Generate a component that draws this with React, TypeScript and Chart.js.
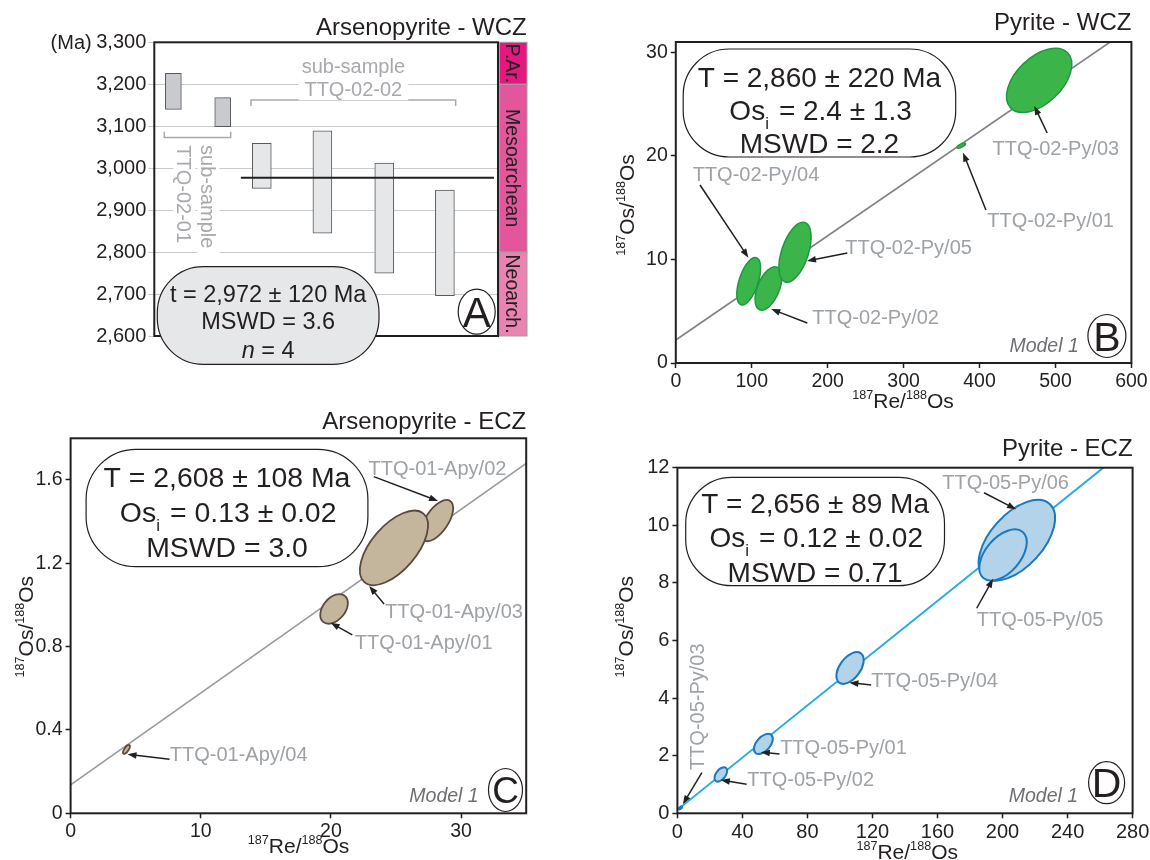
import React, { useEffect, useRef } from 'react';
import { Chart, registerables } from 'chart.js';

Chart.register(...registerables);

const FONT = '"Liberation Sans", Arial, Helvetica, sans-serif';
const INK = '#231f20';
const GRAY_TXT = '#9ea2a6';
const MODEL_TXT = '#6d6e71';

// ---------------- Panel A : Arsenopyrite - WCZ (model ages, Ma) ----------------
const A_SUB01_POS = [0.61, 2.19];
const A_SUB01_LOW = [3140, 3099];
const A_SUB01_HIGH = [3226, 3168];
const A_SUB02_POS = [3.44, 5.38, 7.36, 9.3];
const A_SUB02_LOW = [2952, 2845, 2750, 2696];
const A_SUB02_HIGH = [3059, 3089, 3012, 2948];
const A_MEAN_AGE = 2977;
const A_MEAN_FROM = 2.77;
const A_MEAN_TO = 10.87;
const A_Y_TICKS = [2600, 2700, 2800, 2900, 3000, 3100, 3200, 3300];
const GEO_NAMES = ['P.Ar.', 'Mesoarchean', 'Neoarch.'];
const GEO_TOP = [3300, 3200, 2800];
const GEO_BOTTOM = [3200, 2800, 2600];
const GEO_COLORS = ['#e4187e', '#e4569b', '#ea83b1'];

// ---------------- Panel B : Pyrite - WCZ ----------------
const B_NAMES = ['TTQ-02-Py/01', 'TTQ-02-Py/04', 'TTQ-02-Py/02', 'TTQ-02-Py/05', 'TTQ-02-Py/03'];
const B_RE = [376, 96, 122, 157, 478.5];
const B_RE_ERR = [5.5, 15.7, 17.6, 21.2, 43];
const B_OS = [21.0, 7.9, 7.2, 10.7, 27.3];
const B_OS_ERR = [0.25, 2.29, 2.1, 2.9, 3.1];
const B_RHO = [0.7, 0.55, 0.5, 0.5, 0.5];
const B_ISO_X = [0, 572];
const B_ISO_Y = [2.22, 31];
const B_X_TICKS = [0, 100, 200, 300, 400, 500, 600];
const B_Y_TICKS = [0, 10, 20, 30];

// ---------------- Panel C : Arsenopyrite - ECZ ----------------
const C_NAMES = ['TTQ-01-Apy/01', 'TTQ-01-Apy/02', 'TTQ-01-Apy/03', 'TTQ-01-Apy/04'];
const C_RE = [20.24, 28.15, 24.84, 4.29];
const C_RE_ERR = [1.06, 1.24, 2.62, 0.26];
const C_OS = [0.981, 1.405, 1.274, 0.307];
const C_OS_ERR = [0.071, 0.099, 0.179, 0.0216];
const C_RHO = [0.4, 0.6, 0.6, 0.7];
const C_ISO_X = [0, 35];
const C_ISO_Y = [0.136, 1.68];
const C_X_TICKS = [0, 10, 20, 30];
const C_Y_TICKS = [0, 0.4, 0.8, 1.2, 1.6];

// ---------------- Panel D : Pyrite - ECZ ----------------
const D_NAMES = ['TTQ-05-Py/01', 'TTQ-05-Py/02', 'TTQ-05-Py/03', 'TTQ-05-Py/04', 'TTQ-05-Py/06', 'TTQ-05-Py/05'];
const D_RE = [52.9, 26.7, 2.0, 106.2, 208.8, 200.3];
const D_RE_ERR = [5.8, 3.9, 1.0, 8.4, 23.5, 14.6];
const D_OS = [2.41, 1.35, 0.19, 5.045, 9.48, 8.97];
const D_OS_ERR = [0.35, 0.25, 0.05, 0.55, 1.4, 0.89];
const D_RHO = [0.5, 0.5, 0.6, 0.5, 0.55, 0.5];
const D_ISO_X = [0, 262];
const D_ISO_Y = [0.12, 12];
const D_X_TICKS = [0, 40, 80, 120, 160, 200, 240, 280];
const D_Y_TICKS = [0, 2, 4, 6, 8, 10, 12];

// ---------------------------------------------------------------------------
type Seg = { t: string; sub?: boolean; sup?: boolean; italic?: boolean };
type Rect = { left: number; top: number; w: number; h: number };
type Plot = { l: number; t: number; r: number; b: number };

const f = (size: number, italic = false) => `${italic ? 'italic ' : ''}${size}px ${FONT}`;

function drawSegs(ctx: CanvasRenderingContext2D, segs: Seg[], x: number, baseY: number, size: number, color: string) {
  const small = size * 0.6;
  const widths = segs.map((s) => {
    ctx.font = f(s.sub || s.sup ? small : size, s.italic);
    return ctx.measureText(s.t).width;
  });
  const total = widths.reduce((a, b) => a + b, 0);
  let cx = x - total / 2;
  ctx.fillStyle = color;
  ctx.textAlign = 'left';
  ctx.textBaseline = 'alphabetic';
  segs.forEach((s, i) => {
    ctx.font = f(s.sub || s.sup ? small : size, s.italic);
    const dy = s.sub ? size * 0.32 : s.sup ? -size * 0.42 : 0;
    ctx.fillText(s.t, cx, baseY + dy);
    cx += widths[i] + (s.sub ? size * 0.08 : 0);
  });
}

function roundRect(ctx: CanvasRenderingContext2D, x: number, y: number, w: number, h: number, r: number) {
  const rr = Math.min(r, h / 2, w / 2);
  ctx.beginPath();
  ctx.moveTo(x + rr, y);
  ctx.lineTo(x + w - rr, y);
  ctx.arcTo(x + w, y, x + w, y + rr, rr);
  ctx.lineTo(x + w, y + h - rr);
  ctx.arcTo(x + w, y + h, x + w - rr, y + h, rr);
  ctx.lineTo(x + rr, y + h);
  ctx.arcTo(x, y + h, x, y + h - rr, rr);
  ctx.lineTo(x, y + rr);
  ctx.arcTo(x, y, x + rr, y, rr);
  ctx.closePath();
}

function arrow(ctx: CanvasRenderingContext2D, x1: number, y1: number, x2: number, y2: number) {
  const a = Math.atan2(y2 - y1, x2 - x1);
  const hl = 9;
  const hw = 3.3;
  const c = Math.cos(a);
  const s = Math.sin(a);
  ctx.strokeStyle = INK;
  ctx.lineWidth = 1.5;
  ctx.beginPath();
  ctx.moveTo(x1, y1);
  ctx.lineTo(x2 - c * hl * 0.7, y2 - s * hl * 0.7);
  ctx.stroke();
  ctx.fillStyle = INK;
  ctx.beginPath();
  ctx.moveTo(x2, y2);
  ctx.lineTo(x2 - c * hl + s * hw, y2 - s * hl - c * hw);
  ctx.lineTo(x2 - c * hl - s * hw, y2 - s * hl + c * hw);
  ctx.closePath();
  ctx.fill();
}

type Deco = {
  title: { text: string; right: number; y: number; size: number };
  xTitle?: { x: number; y: number };
  yTitle?: { x: number; y: number };
  box: { dx: number; dy: number; w: number; h: number; r: number; fill: string; size: number; lines: Seg[][]; ys: number[] };
  labels: { text: string; x: number; y: number; rot?: number }[];
  labelSize: number;
  arrows: number[][];
  model?: { dr: number; db: number; size: number };
  letter: { ch: string; dr: number; db: number; w: number; h: number; size: number };
};

const OS_TITLE: Seg[] = [{ t: '187', sup: true }, { t: 'Os/' }, { t: '188', sup: true }, { t: 'Os' }];
const RE_TITLE: Seg[] = [{ t: '187', sup: true }, { t: 'Re/' }, { t: '188', sup: true }, { t: 'Os' }];

function decoDraw(chart: any, d: Deco) {
  const ctx: CanvasRenderingContext2D = chart.ctx;
  const ca = chart.chartArea;
  const xs = chart.scales.x;
  const ys = chart.scales.y;
  ctx.save();
  ctx.strokeStyle = INK;
  ctx.lineWidth = 2;
  ctx.strokeRect(ca.left, ca.top, ca.right - ca.left, ca.bottom - ca.top);
  ctx.fillStyle = INK;
  ctx.font = f(d.title.size);
  ctx.textAlign = 'right';
  ctx.textBaseline = 'alphabetic';
  ctx.fillText(d.title.text, d.title.right, d.title.y + d.title.size * 0.358);
  if (d.xTitle) drawSegs(ctx, RE_TITLE, d.xTitle.x, d.xTitle.y + 21 * 0.358, 21, INK);
  if (d.yTitle) {
    ctx.save();
    ctx.translate(d.yTitle.x, d.yTitle.y);
    ctx.rotate(-Math.PI / 2);
    drawSegs(ctx, OS_TITLE, 0, 21 * 0.358, 21, INK);
    ctx.restore();
  }
  d.arrows.forEach((a) => {
    arrow(ctx, xs.getPixelForValue(a[0]), ys.getPixelForValue(a[1]), xs.getPixelForValue(a[2]), ys.getPixelForValue(a[3]));
  });
  const size = d.labelSize;
  d.labels.forEach((l) => {
    const px = xs.getPixelForValue(l.x);
    const py = ys.getPixelForValue(l.y);
    ctx.font = f(size);
    ctx.fillStyle = GRAY_TXT;
    ctx.textBaseline = 'alphabetic';
    if (l.rot) {
      ctx.save();
      ctx.translate(px, py);
      ctx.rotate(l.rot);
      ctx.textAlign = 'center';
      ctx.fillText(l.text, 0, size * 0.358);
      ctx.restore();
    } else {
      ctx.textAlign = 'left';
      ctx.fillText(l.text, px, py + size * 0.358);
    }
  });
  const b = d.box;
  const bx = ca.left + b.dx;
  const by = ca.top + b.dy;
  roundRect(ctx, bx, by, b.w, b.h, b.r);
  ctx.fillStyle = b.fill;
  ctx.fill();
  ctx.strokeStyle = INK;
  ctx.lineWidth = 1.2;
  ctx.stroke();
  b.lines.forEach((segs, i) => drawSegs(ctx, segs, bx + b.w / 2, by + b.ys[i] + b.size * 0.358, b.size, INK));
  if (d.model) {
    ctx.font = f(d.model.size, true);
    ctx.fillStyle = MODEL_TXT;
    ctx.textAlign = 'right';
    ctx.fillText('Model 1', ca.right - d.model.dr, ca.bottom - d.model.db + d.model.size * 0.358);
  }
  const L = d.letter;
  const lx = ca.right - L.dr;
  const ly = ca.bottom - L.db;
  ctx.beginPath();
  ctx.ellipse(lx, ly, L.w / 2, L.h / 2, 0, 0, Math.PI * 2);
  ctx.fillStyle = '#ffffff';
  ctx.fill();
  ctx.strokeStyle = INK;
  ctx.lineWidth = 1.2;
  ctx.stroke();
  ctx.fillStyle = INK;
  ctx.font = f(L.size);
  ctx.textAlign = 'center';
  ctx.fillText(L.ch, lx, ly + L.size * 0.358);
  ctx.restore();
}

type EllSpec = { x: number[]; sx: number[]; y: number[]; sy: number[]; rho: number[]; fill: string; stroke: string; lw: number; names: string[] };

function drawEllipses(chart: any, e: EllSpec) {
  const ctx: CanvasRenderingContext2D = chart.ctx;
  const ca = chart.chartArea;
  const xs = chart.scales.x;
  const ys = chart.scales.y;
  ctx.save();
  ctx.beginPath();
  ctx.rect(ca.left, ca.top, ca.right - ca.left, ca.bottom - ca.top);
  ctx.clip();
  e.x.forEach((cx, i) => {
    const px = xs.getPixelForValue(cx);
    const py = ys.getPixelForValue(e.y[i]);
    const hw = Math.abs(xs.getPixelForValue(cx + e.sx[i]) - px);
    const hh = Math.abs(ys.getPixelForValue(e.y[i] + e.sy[i]) - py);
    const c11 = hw * hw;
    const c22 = hh * hh;
    const c12 = -e.rho[i] * hw * hh;
    const m = (c11 + c22) / 2;
    const dd = Math.sqrt(((c11 - c22) / 2) ** 2 + c12 * c12);
    const a = Math.sqrt(m + dd);
    const bb = Math.sqrt(Math.max(m - dd, 0.5));
    const th = 0.5 * Math.atan2(2 * c12, c11 - c22);
    ctx.beginPath();
    ctx.ellipse(px, py, a, bb, th, 0, Math.PI * 2);
    ctx.fillStyle = e.fill;
    ctx.fill();
    ctx.strokeStyle = e.stroke;
    ctx.lineWidth = e.lw;
    ctx.stroke();
  });
  ctx.restore();
}

function layoutOf(canvas: Rect, plot: Plot, xShown: boolean) {
  return {
    padding: {
      left: 0,
      top: plot.t - canvas.top,
      right: canvas.left + canvas.w - plot.r,
      bottom: xShown ? 0 : canvas.top + canvas.h - plot.b,
    },
    yWidth: plot.l - canvas.left,
    xHeight: canvas.top + canvas.h - plot.b,
  };
}

function isoConfig(spec: {
  canvas: Rect; plot: Plot; xMin: number; xMax: number; yMin: number; yMax: number;
  xTicks: number[]; yTicks: number[]; yFmt: (v: number) => string; tickSize: number;
  isoX: number[]; isoY: number[]; isoColor: string; isoWidth: number; ell: EllSpec; deco: Deco;
}) {
  const lay = layoutOf(spec.canvas, spec.plot, true);
  const tickCommon = {
    grid: { drawOnChartArea: false, drawTicks: true, tickLength: 5, tickColor: INK, tickWidth: 1.5 },
    border: { display: false },
  };
  return {
    type: 'scatter',
    data: {
      datasets: [
        {
          type: 'line',
          data: spec.isoX.map((x, i) => ({ x, y: spec.isoY[i] })),
          borderColor: spec.isoColor,
          borderWidth: spec.isoWidth,
          pointRadius: 0,
          fill: false,
        },
        {
          type: 'scatter',
          data: spec.ell.x.map((x, i) => ({ x, y: spec.ell.y[i] })),
          pointRadius: 0,
        },
      ],
    },
    options: {
      responsive: false,
      animation: false,
      events: [],
      layout: { padding: lay.padding },
      plugins: { legend: { display: false }, tooltip: { enabled: false }, title: { display: false } },
      scales: {
        x: {
          type: 'linear', min: spec.xMin, max: spec.xMax, ...tickCommon,
          afterBuildTicks: (s: any) => { s.ticks = spec.xTicks.map((v) => ({ value: v })); },
          afterFit: (s: any) => { s.height = lay.xHeight; },
          ticks: { autoSkip: false, maxRotation: 0, padding: 2, color: INK, font: { family: FONT, size: spec.tickSize }, callback: (v: any) => String(v) },
        },
        y: {
          type: 'linear', min: spec.yMin, max: spec.yMax, ...tickCommon,
          afterBuildTicks: (s: any) => { s.ticks = spec.yTicks.map((v) => ({ value: v })); },
          afterFit: (s: any) => { s.width = lay.yWidth; },
          ticks: { autoSkip: false, padding: 3, color: INK, font: { family: FONT, size: spec.tickSize }, callback: (v: any) => spec.yFmt(Number(v)) },
        },
      },
    },
    plugins: [
      {
        id: 'ellipsesAndDeco',
        afterDatasetsDraw: (chart: any) => drawEllipses(chart, spec.ell),
        afterDraw: (chart: any) => decoDraw(chart, spec.deco),
      },
    ],
  };
}

// ---------------- Panel A config ----------------
const A_CANVAS: Rect = { left: 0, top: 0, w: 575, h: 400 };
const A_PLOT: Plot = { l: 154.3, t: 42.3, r: 498, b: 336 };

function fmtThousands(v: number) {
  const s = String(Math.round(v));
  return s.length > 3 ? s.slice(0, s.length - 3) + ',' + s.slice(-3) : s;
}

const A_TEXTS = [
  { text: 'sub-sample', x: 6.37, y: 3244, rot: 0 },
  { text: 'TTQ-02-02', x: 6.37, y: 3188, rot: 0 },
  { text: 'TTQ-02-01', x: 0.96, y: 2938, rot: Math.PI / 2 },
  { text: 'sub-sample', x: 1.73, y: 2932, rot: Math.PI / 2 },
];
const A_BRACKETS = [
  [[3.095, 3148], [3.095, 3162.5], [9.646, 3162.5], [9.646, 3148]],
  [[0.32, 3087], [0.32, 3073], [2.445, 3073], [2.445, 3087]],
];

const A_DECO: Deco = {
  title: { text: 'Arsenopyrite - WCZ', right: 526.7, y: 26.7, size: 24 },
  box: {
    dx: 3, dy: 224.4, w: 221.7, h: 97.6, r: 46, fill: '#e6e7e8', size: 23.5,
    lines: [[{ t: 't = 2,972 ± 120 Ma' }], [{ t: 'MSWD = 3.6' }], [{ t: 'n', italic: true }, { t: ' = 4' }]],
    ys: [26.6, 54.3, 83.3],
  },
  labels: [],
  labelSize: 20,
  arrows: [],
  letter: { ch: 'A', dr: 21.3, db: 24.3, w: 37, h: 45, size: 42 },
};

function aDraw(chart: any) {
  const ctx: CanvasRenderingContext2D = chart.ctx;
  const ca = chart.chartArea;
  const xs = chart.scales.x;
  const ys = chart.scales.y;
  ctx.save();
  ctx.strokeStyle = '#a7a9ac';
  ctx.lineWidth = 1.5;
  A_BRACKETS.forEach((br) => {
    ctx.beginPath();
    br.forEach((p, i) => {
      const px = xs.getPixelForValue(p[0]);
      const py = ys.getPixelForValue(p[1]);
      if (i === 0) ctx.moveTo(px, py); else ctx.lineTo(px, py);
    });
    ctx.stroke();
  });
  const size = 20;
  A_TEXTS.forEach((t) => {
    const px = xs.getPixelForValue(t.x);
    const py = ys.getPixelForValue(t.y);
    ctx.save();
    ctx.translate(px, py);
    ctx.rotate(t.rot);
    ctx.font = f(size);
    const w = ctx.measureText(t.text).width;
    ctx.fillStyle = '#ffffff';
    ctx.fillRect(-w / 2 - 6, -size * 0.55, w + 12, size * 1.1);
    ctx.fillStyle = '#a7a9ac';
    ctx.textAlign = 'center';
    ctx.textBaseline = 'alphabetic';
    ctx.fillText(t.text, 0, size * 0.358);
    ctx.restore();
  });
  ctx.fillStyle = INK;
  ctx.font = f(20);
  ctx.textAlign = 'right';
  ctx.fillText('(Ma)', 91.7, ys.getPixelForValue(3300) + 20 * 0.358);
  const gx0 = ca.right + 1.5;
  const gx1 = ca.right + 29;
  GEO_NAMES.forEach((name, i) => {
    const y0 = ys.getPixelForValue(GEO_TOP[i]);
    const y1 = ys.getPixelForValue(GEO_BOTTOM[i]);
    ctx.fillStyle = GEO_COLORS[i];
    ctx.fillRect(gx0, y0, gx1 - gx0, y1 - y0);
    ctx.strokeStyle = '#9d9fa2';
    ctx.lineWidth = 1;
    ctx.strokeRect(gx0, y0, gx1 - gx0, y1 - y0);
    ctx.save();
    ctx.translate((gx0 + gx1) / 2, (y0 + y1) / 2);
    ctx.rotate(Math.PI / 2);
    ctx.fillStyle = INK;
    ctx.font = f(19.5);
    ctx.textAlign = 'center';
    ctx.fillText(name, 0, 19.5 * 0.358);
    ctx.restore();
  });
  ctx.restore();
  decoDraw(chart, A_DECO);
}

function aConfig() {
  const lay = layoutOf(A_CANVAS, A_PLOT, false);
  return {
    type: 'bar',
    data: {
      datasets: [
        {
          type: 'line',
          data: [{ x: A_MEAN_FROM, y: A_MEAN_AGE }, { x: A_MEAN_TO, y: A_MEAN_AGE }],
          borderColor: INK,
          borderWidth: 2,
          pointRadius: 0,
          order: 0,
        },
        {
          type: 'bar',
          data: A_SUB01_POS.map((x, i) => ({ x, y: [A_SUB01_LOW[i], A_SUB01_HIGH[i]] })),
          backgroundColor: '#c8cacd',
          borderColor: '#58595b',
          borderWidth: 1,
          borderSkipped: false,
          barThickness: 16,
          grouped: false,
          order: 1,
        },
        {
          type: 'bar',
          data: A_SUB02_POS.map((x, i) => ({ x, y: [A_SUB02_LOW[i], A_SUB02_HIGH[i]] })),
          backgroundColor: '#e6e7e8',
          borderColor: '#58595b',
          borderWidth: 1,
          borderSkipped: false,
          barThickness: 19,
          grouped: false,
          order: 1,
        },
      ],
    },
    options: {
      responsive: false,
      animation: false,
      events: [],
      layout: { padding: lay.padding },
      plugins: { legend: { display: false }, tooltip: { enabled: false } },
      scales: {
        x: { type: 'linear', min: 0, max: 11, offset: false, display: false },
        y: {
          type: 'linear', min: 2600, max: 3300, beginAtZero: false,
          grid: { drawOnChartArea: true, color: '#c9cacc', lineWidth: 1, drawTicks: true, tickLength: 6, tickColor: '#c9cacc' },
          border: { display: false },
          afterBuildTicks: (s: any) => { s.ticks = A_Y_TICKS.map((v) => ({ value: v })); },
          afterFit: (s: any) => { s.width = lay.yWidth; },
          ticks: { autoSkip: false, padding: 2, color: INK, font: { family: FONT, size: 20 }, callback: (v: any) => fmtThousands(Number(v)) },
        },
      },
    },
    plugins: [{ id: 'panelA', afterDraw: (chart: any) => aDraw(chart) }],
  };
}

// ---------------- Panels B, C, D configs ----------------
const B_CANVAS: Rect = { left: 575, top: 0, w: 600, h: 420 };
const C_CANVAS: Rect = { left: 0, top: 400, w: 575, h: 460 };
const D_CANVAS: Rect = { left: 575, top: 420, w: 600, h: 440 };

function bConfig() {
  return isoConfig({
    canvas: B_CANVAS, plot: { l: 675.8, t: 42, r: 1131.4, b: 363 },
    xMin: 0, xMax: 600, yMin: 0, yMax: 31, xTicks: B_X_TICKS, yTicks: B_Y_TICKS, yFmt: (v) => String(v), tickSize: 19.5,
    isoX: B_ISO_X, isoY: B_ISO_Y, isoColor: '#7f8386', isoWidth: 1.6,
    ell: { names: B_NAMES, x: B_RE, sx: B_RE_ERR, y: B_OS, sy: B_OS_ERR, rho: B_RHO, fill: '#3bb449', stroke: '#1d9a3f', lw: 1.5 },
    deco: {
      title: { text: 'Pyrite - WCZ', right: 556.4, y: 21.7, size: 24 },
      xTitle: { x: 328, y: 400 },
      yTitle: { x: 51.3, y: 205 },
      box: {
        dx: 7.4, dy: 7, w: 272.5, h: 108, r: 46, fill: '#ffffff', size: 28,
        lines: [[{ t: 'T = 2,860 ± 220 Ma' }], [{ t: 'Os' }, { t: 'i', sub: true }, { t: ' = 2.4 ± 1.3' }], [{ t: 'MSWD = 2.2' }]],
        ys: [28, 61, 94],
      },
      labels: [
        { text: 'TTQ-02-Py/03', x: 417.1, y: 20.79 },
        { text: 'TTQ-02-Py/01', x: 410.2, y: 13.81 },
        { text: 'TTQ-02-Py/04', x: 22.2, y: 18.25 },
        { text: 'TTQ-02-Py/05', x: 223.1, y: 11.23 },
        { text: 'TTQ-02-Py/02', x: 179.7, y: 4.47 },
      ],
      labelSize: 20,
      arrows: [
        [489.1, 22.21, 472.1, 24.82],
        [408.4, 14.78, 378.3, 20.31],
        [31.9, 17.19, 95.6, 10.17],
        [225.9, 10.62, 172.8, 9.85],
        [173.2, 3.86, 125.7, 5.21],
      ],
      model: { dr: 52.6, db: 18, size: 19.5 },
      letter: { ch: 'B', dr: 24.5, db: 27, w: 38, h: 43, size: 41 },
    },
  });
}

function cConfig() {
  return isoConfig({
    canvas: C_CANVAS, plot: { l: 70.6, t: 438.3, r: 526.2, b: 813.3 },
    xMin: 0, xMax: 35, yMin: 0, yMax: 1.8, xTicks: C_X_TICKS, yTicks: C_Y_TICKS, yFmt: (v) => (v === 0 ? '0' : v.toFixed(1)), tickSize: 19.5,
    isoX: C_ISO_X, isoY: C_ISO_Y, isoColor: '#959a9e', isoWidth: 1.6,
    ell: { names: C_NAMES, x: C_RE, sx: C_RE_ERR, y: C_OS, sy: C_OS_ERR, rho: C_RHO, fill: '#c3b69c', stroke: '#5b4a3e', lw: 1.8 },
    deco: {
      title: { text: 'Arsenopyrite - ECZ', right: 526.2, y: 20.7, size: 24 },
      xTitle: { x: 298.6, y: 445 },
      yTitle: { x: 25.8, y: 226.7 },
      box: {
        dx: 15.5, dy: 11, w: 281.8, h: 117.4, r: 50, fill: '#ffffff', size: 28.4,
        lines: [[{ t: 'T = 2,608 ± 108 Ma' }], [{ t: 'Os' }, { t: 'i', sub: true }, { t: ' = 0.13 ± 0.02' }], [{ t: 'MSWD = 3.0' }]],
        ys: [28, 62.4, 97.4],
      },
      labels: [
        { text: 'TTQ-01-Apy/02', x: 22.89, y: 1.656 },
        { text: 'TTQ-01-Apy/03', x: 24.16, y: 0.9725 },
        { text: 'TTQ-01-Apy/01', x: 21.83, y: 0.821 },
        { text: 'TTQ-01-Apy/04', x: 7.62, y: 0.2846 },
      ],
      labelSize: 20,
      arrows: [
        [23.29, 1.616, 28.23, 1.499],
        [24.08, 1.005, 22.94, 1.091],
        [21.64, 0.856, 19.98, 0.915],
        [7.6, 0.259, 4.37, 0.283],
      ],
      model: { dr: 47.5, db: 18.3, size: 19.5 },
      letter: { ch: 'C', dr: 20.7, db: 23.3, w: 34, h: 43, size: 37 },
    },
  });
}

function dConfig() {
  return isoConfig({
    canvas: D_CANVAS, plot: { l: 677.4, t: 467.7, r: 1132.6, b: 813.3 },
    xMin: 0, xMax: 280, yMin: 0, yMax: 12, xTicks: D_X_TICKS, yTicks: D_Y_TICKS, yFmt: (v) => String(v), tickSize: 20,
    isoX: D_ISO_X, isoY: D_ISO_Y, isoColor: '#29abe2', isoWidth: 2,
    ell: { names: D_NAMES, x: D_RE, sx: D_RE_ERR, y: D_OS, sy: D_OS_ERR, rho: D_RHO, fill: '#b2d3e9', stroke: '#1b78bd', lw: 2 },
    deco: {
      title: { text: 'Pyrite - ECZ', right: 557.6, y: 27.7, size: 24 },
      xTitle: { x: 332.2, y: 431.7 },
      yTitle: { x: 50.5, y: 206.7 },
      box: {
        dx: 8.3, dy: 9.6, w: 258.8, h: 108.4, r: 46, fill: '#ffffff', size: 28,
        lines: [[{ t: 'T = 2,656 ± 89 Ma' }], [{ t: 'Os' }, { t: 'i', sub: true }, { t: ' = 0.12 ± 0.02' }], [{ t: 'MSWD = 0.71' }]],
        ys: [26, 59.4, 94.4],
      },
      labels: [
        { text: 'TTQ-05-Py/06', x: 162.9, y: 11.51 },
        { text: 'TTQ-05-Py/05', x: 184.1, y: 6.74 },
        { text: 'TTQ-05-Py/04', x: 119.2, y: 4.65 },
        { text: 'TTQ-05-Py/01', x: 63.2, y: 2.31 },
        { text: 'TTQ-05-Py/02', x: 43.0, y: 1.19 },
        { text: 'TTQ-05-Py/03', x: 12.1, y: 3.7, rot: -Math.PI / 2 },
      ],
      labelSize: 20,
      arrows: [
        [188.6, 11.13, 208.3, 10.56],
        [184.1, 7.12, 194.2, 8.14],
        [119.2, 4.455, 105.8, 4.535],
        [62.8, 2.06, 51.3, 2.12],
        [42.6, 1.007, 26.7, 1.156],
        [15.05, 1.41, 3.36, 0.3125],
      ],
      model: { dr: 54.5, db: 18.3, size: 19.5 },
      letter: { ch: 'D', dr: 26, db: 30.6, w: 36, h: 42, size: 41 },
    },
  });
}

function Panel({ rect, build }: { rect: Rect; build: () => any }) {
  const ref = useRef<HTMLCanvasElement>(null);
  useEffect(() => {
    const chart = new Chart(ref.current as HTMLCanvasElement, build());
    return () => chart.destroy();
  }, []);
  return (
    <canvas
      ref={ref}
      width={rect.w}
      height={rect.h}
      style={{ position: 'absolute', left: rect.left, top: rect.top, width: rect.w, height: rect.h }}
    />
  );
}

export default function App() {
  return (
    <div style={{ position: 'absolute', left: 0, top: 0, width: 1150, height: 860, background: '#ffffff', overflow: 'hidden' }}>
      <Panel rect={A_CANVAS} build={aConfig} />
      <Panel rect={B_CANVAS} build={bConfig} />
      <Panel rect={C_CANVAS} build={cConfig} />
      <Panel rect={D_CANVAS} build={dConfig} />
    </div>
  );
}
